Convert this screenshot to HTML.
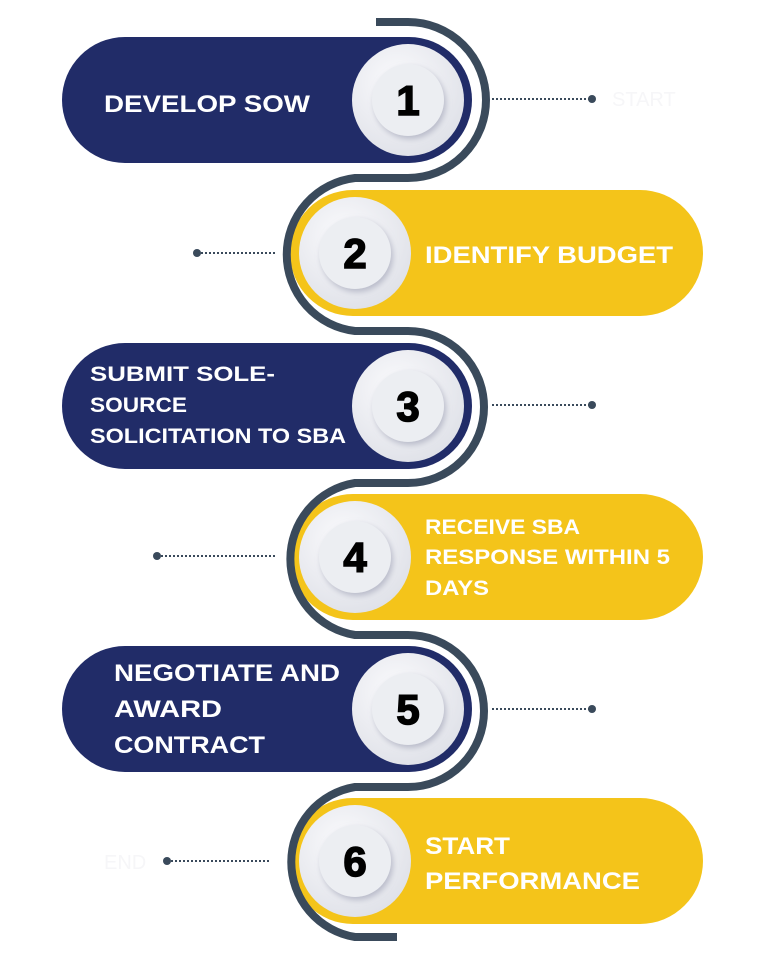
<!DOCTYPE html>
<html><head><style>
body{margin:0;background:#fff;}
svg{display:block}
text{font-family:"Liberation Sans",Arial,sans-serif;font-weight:bold;}
.t{fill:#fff;font-size:24px;}
.s{fill:#fff;font-size:21px;}
.n{fill:#000;font-size:42px;font-weight:900;text-anchor:middle;stroke:#000;stroke-width:1.5;}
</style></head><body>
<svg width="768" height="960" viewBox="0 0 768 960" xmlns="http://www.w3.org/2000/svg">
<defs>
<radialGradient id="g" cx="0.4" cy="0.35" r="0.7"><stop offset="0" stop-color="#fbfbfd"/><stop offset="1" stop-color="#dfe1e8"/></radialGradient>
<filter id="sh" x="-30%" y="-30%" width="160%" height="160%"><feDropShadow dx="2" dy="3" stdDeviation="3" flood-color="#9a9cb0" flood-opacity="0.6"/></filter>
</defs>
<rect x="62" y="37" width="410" height="126" rx="63" fill="#212c68"/>
<rect x="290" y="190" width="413" height="126" rx="63" fill="#f4c41a"/>
<rect x="62" y="343" width="410" height="126" rx="63" fill="#212c68"/>
<rect x="290" y="494" width="413" height="126" rx="63" fill="#f4c41a"/>
<rect x="62" y="646" width="410" height="126" rx="63" fill="#212c68"/>
<rect x="290" y="798" width="413" height="126" rx="63" fill="#f4c41a"/>
<path d="M376 22 H408 A78 78 0 0 1 408 178 H355 A77 77 0 0 0 355 331 H408 A76 76 0 0 1 408 483 H355 A77 77 0 0 0 355 635 H408 A76 76 0 0 1 408 787 H355 A76 76 0 0 0 355 937 H397" fill="none" stroke="#3a4a5b" stroke-width="8"/>
<g stroke="#3a4a5b" stroke-width="2" stroke-dasharray="2 2">
<line x1="492" y1="99" x2="592" y2="99"/>
<line x1="197" y1="253" x2="276" y2="253"/>
<line x1="492" y1="405" x2="592" y2="405"/>
<line x1="157" y1="556" x2="276" y2="556"/>
<line x1="492" y1="709" x2="592" y2="709"/>
<line x1="167" y1="861" x2="270" y2="861"/>
</g>
<g fill="#3a4a5b">
<circle cx="592" cy="99" r="4"/><circle cx="197" cy="253" r="4"/><circle cx="592" cy="405" r="4"/>
<circle cx="157" cy="556" r="4"/><circle cx="592" cy="709" r="4"/><circle cx="167" cy="861" r="4"/>
</g>
<text x="612" y="106" style="font-size:20px;font-weight:normal;fill:#f6f6f8">START</text>
<text x="104" y="869" style="font-size:20px;font-weight:normal;fill:#f6f6f8">END</text>
<g>
<g transform="translate(408,100)"><circle r="56" fill="url(#g)"/><circle r="36" fill="#eceef2" filter="url(#sh)"/><text class="n" y="15">1</text></g>
<g transform="translate(355,253)"><circle r="56" fill="url(#g)"/><circle r="36" fill="#eceef2" filter="url(#sh)"/><text class="n" y="15">2</text></g>
<g transform="translate(408,406)"><circle r="56" fill="url(#g)"/><circle r="36" fill="#eceef2" filter="url(#sh)"/><text class="n" y="15">3</text></g>
<g transform="translate(355,557)"><circle r="56" fill="url(#g)"/><circle r="36" fill="#eceef2" filter="url(#sh)"/><text class="n" y="15">4</text></g>
<g transform="translate(408,709)"><circle r="56" fill="url(#g)"/><circle r="36" fill="#eceef2" filter="url(#sh)"/><text class="n" y="15">5</text></g>
<g transform="translate(355,861)"><circle r="56" fill="url(#g)"/><circle r="36" fill="#eceef2" filter="url(#sh)"/><text class="n" y="15">6</text></g>
</g>
<text class="t" x="104" y="112" textLength="206" lengthAdjust="spacingAndGlyphs">DEVELOP SOW</text>
<text class="t" x="425" y="263" textLength="248" lengthAdjust="spacingAndGlyphs">IDENTIFY BUDGET</text>
<text class="s" x="90" y="381" textLength="185" lengthAdjust="spacingAndGlyphs">SUBMIT SOLE-</text>
<text class="s" x="90" y="412" textLength="97" lengthAdjust="spacingAndGlyphs">SOURCE</text>
<text class="s" x="90" y="443" textLength="256" lengthAdjust="spacingAndGlyphs">SOLICITATION TO SBA</text>
<text class="s" x="425" y="534" textLength="155" lengthAdjust="spacingAndGlyphs">RECEIVE SBA</text>
<text class="s" x="425" y="564" textLength="245" lengthAdjust="spacingAndGlyphs">RESPONSE WITHIN 5</text>
<text class="s" x="425" y="595" textLength="64" lengthAdjust="spacingAndGlyphs">DAYS</text>
<text class="t" x="114" y="681" textLength="226" lengthAdjust="spacingAndGlyphs">NEGOTIATE AND</text>
<text class="t" x="114" y="717" textLength="108" lengthAdjust="spacingAndGlyphs">AWARD</text>
<text class="t" x="114" y="753" textLength="151" lengthAdjust="spacingAndGlyphs">CONTRACT</text>
<text class="t" x="425" y="854" textLength="85" lengthAdjust="spacingAndGlyphs">START</text>
<text class="t" x="425" y="889" textLength="215" lengthAdjust="spacingAndGlyphs">PERFORMANCE</text>
</svg>
</body></html>
